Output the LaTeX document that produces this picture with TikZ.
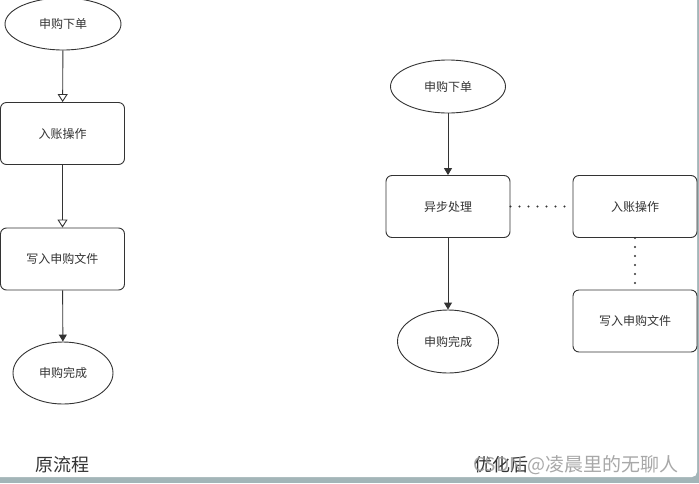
\documentclass[tikz,border=0pt]{standalone}
\usepackage{fontspec}
\newfontfamily\cjk{Noto Sans CJK SC}
\usetikzlibrary{shapes.geometric,arrows.meta}
\definecolor{bgteal}{RGB}{163,181,184}
\definecolor{ink}{RGB}{51,51,51}
\begin{document}
\begin{tikzpicture}[x=1pt,y=-1pt,
	box/.style={draw=ink,line width=0.9pt,rounded corners=6pt,minimum width=124pt,minimum height=62pt,inner sep=0pt,font=\cjk\fontsize{12}{14}\selectfont,text=ink},
	oval/.style={draw=ink,line width=0.9pt,ellipse,inner sep=0pt,font=\cjk\fontsize{12}{14}\selectfont,text=ink},
	flow/.style={draw=ink,line width=0.9pt,-{Triangle[length=7pt,width=8pt]}},
	oldflow/.style={draw=ink,line width=0.9pt,-{Triangle[open,length=8pt,width=10pt]}},
	link/.style={draw=ink,line width=2.3pt,dash pattern=on 0pt off 9pt,line cap=round},
	title/.style={font=\cjk\fontsize{18}{20}\selectfont,text=ink}]
	\useasboundingbox (0,0) rectangle (699,483);
	\fill[bgteal] (0,0) rectangle (699,483);
	\fill[white,rounded corners=5pt] (-10,-10) rectangle (697,477);
	% original flow
	\node[oval,minimum width=116pt,minimum height=52pt] (oldorder) at (63,24) {申购下单};
	\node[box] (oldpost) at (62.5,133.5) {入账操作};
	\node[box] (oldwrite) at (62.5,259) {写入申购文件};
	\node[oval,minimum width=100pt,minimum height=62pt] (olddone) at (63,373) {申购完成};
	\draw[oldflow] (oldorder) -- (oldpost);
	\draw[oldflow] (oldpost) -- (oldwrite);
	\draw[flow] (oldwrite) -- (olddone);
	\node[title] (oldtitle) at (62,465) {原流程};
	% optimized flow
	\node[oval,minimum width=115pt,minimum height=53pt] (neworder) at (448,86.5) {申购下单};
	\node[box] (async) at (448,206.5) {异步处理};
	\node[box] (newpost) at (635,206.5) {入账操作};
	\node[box] (newwrite) at (635,321) {写入申购文件};
	\node[oval,minimum width=101pt,minimum height=63pt] (newdone) at (448,341.5) {申购完成};
	\draw[flow] (neworder) -- (async);
	\draw[flow] (async) -- (newdone);
	\draw[link] (async) -- (newpost);
	\draw[link] (newpost) -- (newwrite);
	\node[title,anchor=west,inner sep=0pt] (newtitle) at (474,465) {优化后};
	\node[anchor=west,inner sep=0pt,font=\cjk\fontsize{19}{21}\selectfont,text=gray!80,opacity=0.85] (mark) at (473,465) {CSDN @凌晨里的无聊人};
\end{tikzpicture}
\end{document}
